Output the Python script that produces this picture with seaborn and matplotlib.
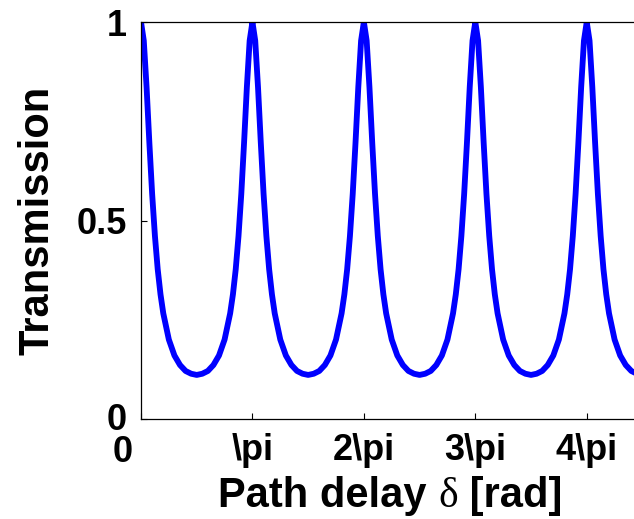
import matplotlib
matplotlib.use('Agg')
import matplotlib.pyplot as plt
import matplotlib.transforms as mtransforms
import numpy as np
import seaborn as sns

# path delay in units of pi
delay_pi = [
    0.0, 0.025, 0.05, 0.075, 0.1, 0.125, 0.15, 0.175, 0.2, 0.25, 0.3, 0.35, 0.4, 0.45,
    0.5, 0.55, 0.6, 0.65, 0.7, 0.75, 0.8, 0.825, 0.85, 0.875, 0.9, 0.925, 0.95, 0.975,
    1.0, 1.025, 1.05, 1.075, 1.1, 1.125, 1.15, 1.175, 1.2, 1.25, 1.3, 1.35, 1.4, 1.45,
    1.5, 1.55, 1.6, 1.65, 1.7, 1.75, 1.8, 1.825, 1.85, 1.875, 1.9, 1.925, 1.95, 1.975,
    2.0, 2.025, 2.05, 2.075, 2.1, 2.125, 2.15, 2.175, 2.2, 2.25, 2.3, 2.35, 2.4, 2.45,
    2.5, 2.55, 2.6, 2.65, 2.7, 2.75, 2.8, 2.825, 2.85, 2.875, 2.9, 2.925, 2.95, 2.975,
    3.0, 3.025, 3.05, 3.075, 3.1, 3.125, 3.15, 3.175, 3.2, 3.25, 3.3, 3.35, 3.4, 3.45,
    3.5, 3.55, 3.6, 3.65, 3.7, 3.75, 3.8, 3.825, 3.85, 3.875, 3.9, 3.925, 3.95, 3.975,
    4.0, 4.025, 4.05, 4.075, 4.1, 4.125, 4.15, 4.175, 4.2, 4.25, 4.3, 4.35, 4.4, 4.45,
    4.5,
]
transmission = [
    1.000, 0.953, 0.836, 0.696, 0.567, 0.461, 0.377, 0.314, 0.266, 0.200, 0.160, 0.136, 0.121, 0.114,
    0.111, 0.114, 0.121, 0.136, 0.160, 0.200, 0.266, 0.314, 0.377, 0.461, 0.567, 0.696, 0.836, 0.953,
    1.000, 0.953, 0.836, 0.696, 0.567, 0.461, 0.377, 0.314, 0.266, 0.200, 0.160, 0.136, 0.121, 0.114,
    0.111, 0.114, 0.121, 0.136, 0.160, 0.200, 0.266, 0.314, 0.377, 0.461, 0.567, 0.696, 0.836, 0.953,
    1.000, 0.953, 0.836, 0.696, 0.567, 0.461, 0.377, 0.314, 0.266, 0.200, 0.160, 0.136, 0.121, 0.114,
    0.111, 0.114, 0.121, 0.136, 0.160, 0.200, 0.266, 0.314, 0.377, 0.461, 0.567, 0.696, 0.836, 0.953,
    1.000, 0.953, 0.836, 0.696, 0.567, 0.461, 0.377, 0.314, 0.266, 0.200, 0.160, 0.136, 0.121, 0.114,
    0.111, 0.114, 0.121, 0.136, 0.160, 0.200, 0.266, 0.314, 0.377, 0.461, 0.567, 0.696, 0.836, 0.953,
    1.000, 0.953, 0.836, 0.696, 0.567, 0.461, 0.377, 0.314, 0.266, 0.200, 0.160, 0.136, 0.121, 0.114,
    0.111,
]
xtick_pos = [0, 1, 2, 3, 4]
xtick_labels = ['0', '\\pi', '2\\pi', '3\\pi', '4\\pi']
ytick_pos = [0, 0.5, 1]
ytick_labels = ['0', '0.5', '1']

sns.set_style('ticks', {'xtick.direction': 'in', 'ytick.direction': 'in',
                        'text.color': 'black', 'axes.labelcolor': 'black',
                        'xtick.color': 'black', 'ytick.color': 'black'})
plt.rcParams['font.family'] = ['Liberation Sans', 'DejaVu Sans']
plt.rcParams['font.weight'] = 'bold'

fig = plt.figure(figsize=(6.34, 5.19), dpi=100)
# axes runs up to the right edge, the right spine is cut off like in the original
ax = fig.add_axes([141 / 634, 100 / 519, 497 / 634, 397 / 519])

sns.lineplot(x=np.array(delay_pi), y=np.array(transmission), ax=ax,
             color='#0000ff', linewidth=4.2)

ax.set_xlim(0, 4.46)
ax.set_ylim(0, 1)
ax.set_xticks(xtick_pos)
ax.set_xticklabels(xtick_labels)
ax.set_yticks(ytick_pos)
ax.set_yticklabels(ytick_labels)
ax.tick_params(labelsize=26, length=4, width=0.8, color='black', labelcolor='black', pad=10)
for sp in ['left', 'bottom', 'top']:
    ax.spines[sp].set_visible(True)
    ax.spines[sp].set_color('black')
    ax.spines[sp].set_linewidth(0.9)
ax.spines['right'].set_visible(False)

# the zeros sit a little off their ticks in the original
lbl0 = ax.get_xticklabels()[0]
lbl0.set_transform(lbl0.get_transform() + mtransforms.ScaledTranslation(-18 / 100, -2 / 100, fig.dpi_scale_trans))
lbly0 = ax.get_yticklabels()[0]
lbly0.set_transform(lbly0.get_transform() + mtransforms.ScaledTranslation(0, 3 / 100, fig.dpi_scale_trans))

ax.set_ylabel('Transmission', fontsize=30, fontweight='bold', color='black', labelpad=14)

# x label in three parts so the delta can be an upright serif glyph
t1 = fig.text(218 / 634, 1 - 516 / 519, 'Path delay ', fontsize=30, fontweight='bold',
              color='black', ha='left', va='bottom')
t2 = ax.annotate('\u03b4', xy=(1, 0), xycoords=t1, fontsize=30, fontweight='normal',
                 family=['Liberation Serif'], color='black', ha='left', va='bottom',
                 annotation_clip=False)
t3 = ax.annotate(' [rad]', xy=(1, 0), xycoords=t2, fontsize=30, fontweight='bold',
                 color='black', ha='left', va='bottom', annotation_clip=False)

fig.savefig('out.png', dpi=100)
